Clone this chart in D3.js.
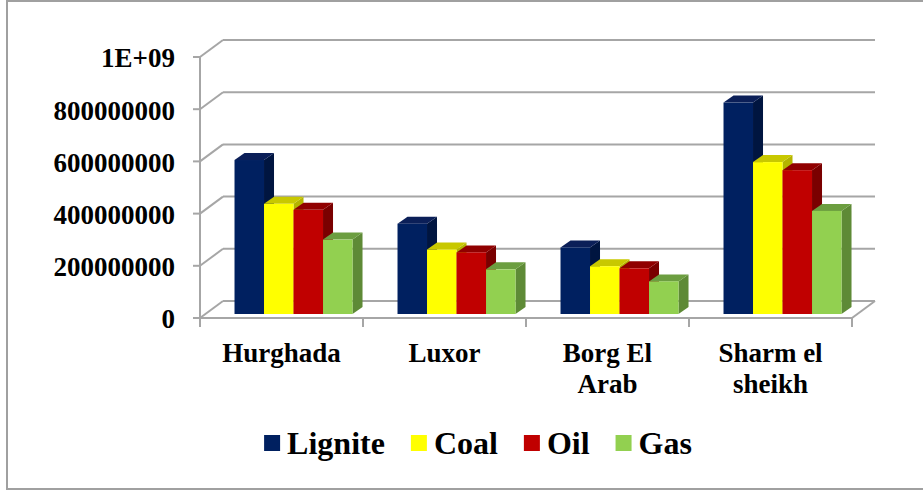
<!DOCTYPE html>
<html>
<head>
<meta charset="utf-8">
<script src="https://cdn.jsdelivr.net/npm/d3@7/dist/d3.min.js"></script>
<style>
  html, body { margin: 0; padding: 0; background: #fff; }
  svg { display: block; }
  svg text { font-family: "Liberation Serif", "Times New Roman", Times, serif; font-weight: bold; fill: #000; }
</style>
</head>
<body>
<svg id="chart" width="923" height="490" font-family="Liberation Serif, Times New Roman, serif" font-weight="bold"></svg>
<script>
// ---- data ----
const categories = ["Hurghada", "Luxor", "Borg El\nArab", "Sharm el\nsheikh"];
const seriesNames = ["Lignite", "Coal", "Oil", "Gas"];
const lignite = [590e6, 346e6, 255e6, 810e6];
const coal    = [422e6, 247e6, 183e6, 582e6];
const oil     = [399e6, 236e6, 175e6, 551e6];
const gas     = [285e6, 171e6, 125e6, 395e6];
const yTicks  = [0, 2e8, 4e8, 6e8, 8e8, 1e9];
const yTickLabels = ["0", "200000000", "400000000", "600000000", "800000000", "1E+09"];

const seriesValues = [lignite, coal, oil, gas];
const colors = {
  Lignite: { front: "#002060", top: "#0b1f58", side: "#001540" },
  Coal:    { front: "#ffff00", top: "#c8c800", side: "#b4b400" },
  Oil:     { front: "#c00000", top: "#900000", side: "#7a0000" },
  Gas:     { front: "#92d050", top: "#6c9e40", side: "#5e8a36" }
};

const FONT = "'Liberation Serif', 'Times New Roman', serif";
const svg = d3.select("#chart");
const gridColor = "#a6a6a6";

// outer border
svg.append("rect").attr("x", 7).attr("y", 1).attr("width", 940).attr("height", 488)
  .attr("fill", "none").attr("stroke", "#a0a0a0").attr("stroke-width", 2);

// scales
const x0 = d3.scaleBand().domain(categories).range([200, 852]).paddingInner(0).paddingOuter(0);
const bw = x0.bandwidth();
const x1 = d3.scaleBand().domain(seriesNames).range([bw * 0.178, bw * 0.902]);
const y = d3.scaleLinear().domain([0, 1e9]).range([318, 57]);

// depth of wall
const DX = 23, DY = -17;
// bar placement depth and bar depth
const bdx = 5.5, bdy = -4;
const barDX = 10, barDY = -7;

const grid = svg.append("g").attr("stroke", gridColor).attr("stroke-width", 2).attr("fill", "none");

// back wall gridlines + left wall diagonals
yTicks.forEach(t => {
  const yy = y(t);
  grid.append("line").attr("x1", 200 + DX).attr("x2", 852 + DX).attr("y1", yy + DY).attr("y2", yy + DY);
  grid.append("line").attr("x1", 200).attr("x2", 200 + DX).attr("y1", yy).attr("y2", yy + DY);
  grid.append("line").attr("x1", 193).attr("x2", 200).attr("y1", yy).attr("y2", yy);
});
// vertical axis
grid.append("line").attr("x1", 200).attr("x2", 200).attr("y1", y(1e9)).attr("y2", y(0));
// floor front & right edge
grid.append("line").attr("x1", 200).attr("x2", 852).attr("y1", y(0)).attr("y2", y(0));
grid.append("line").attr("x1", 852).attr("x2", 852 + DX).attr("y1", y(0)).attr("y2", y(0) + DY);
// category ticks
const bounds = categories.map(c => x0(c)).concat([x0(categories[categories.length - 1]) + bw]);
bounds.forEach(b => {
  grid.append("line").attr("x1", b).attr("x2", b).attr("y1", y(0)).attr("y2", y(0) + 9);
});

// y labels
svg.append("g").selectAll("text").data(yTicks).join("text")
  .attr("x", 175).attr("y", d => y(d) + 1)
  .attr("dy", "0.35em")
  .attr("text-anchor", "end")
  .attr("font-family", FONT).attr("font-weight", "bold")
  .attr("font-size", 27)
  .text((d, i) => yTickLabels[i]);

// bars
const bars = svg.append("g");
categories.forEach((c, ci) => {
  seriesNames.forEach((s, si) => {
    const v = seriesValues[si][ci];
    const xl = x0(c) + x1(s) + bdx;
    const w = x1.bandwidth();
    const yb = y(0) + bdy;
    const yt = y(v) + bdy;
    const col = colors[s];
    bars.append("path")
      .attr("d", `M${xl + w},${yt} L${xl + w + barDX},${yt + barDY} L${xl + w + barDX},${yb + barDY} L${xl + w},${yb} Z`)
      .attr("fill", col.side);
    bars.append("path")
      .attr("d", `M${xl},${yt} L${xl + barDX},${yt + barDY} L${xl + w + barDX},${yt + barDY} L${xl + w},${yt} Z`)
      .attr("fill", col.top);
    bars.append("rect").attr("x", xl).attr("y", yt).attr("width", w).attr("height", yb - yt)
      .attr("fill", col.front);
  });
});

// category labels
const catG = svg.append("g");
categories.forEach(c => {
  const lines = c.split("\n");
  const t = catG.append("text")
    .attr("x", x0(c) + bw / 2).attr("y", 362)
    .attr("text-anchor", "middle")
    .attr("font-family", FONT).attr("font-weight", "bold")
    .attr("font-size", 27);
  lines.forEach((ln, i) => {
    t.append("tspan").attr("x", x0(c) + bw / 2).attr("dy", i === 0 ? 0 : 31).text(ln);
  });
});

// legend
const leg = svg.append("g");
let lx = 0;
const items = [];
seriesNames.forEach(s => {
  const g = leg.append("g");
  g.append("rect").attr("x", 0).attr("y", -8).attr("width", 16).attr("height", 16).attr("fill", colors[s].front);
  const t = g.append("text").attr("x", 23).attr("y", 0).attr("dy", "0.35em")
    .attr("font-family", FONT).attr("font-weight", "bold")
    .attr("font-size", 32).text(s);
  const tw = t.node().getComputedTextLength();
  items.push({ g, w: 23 + tw });
});
const gap = 26;
const total = d3.sum(items, d => d.w) + gap * (items.length - 1);
lx = 478 - total / 2;
items.forEach(it => {
  it.g.attr("transform", `translate(${lx},443)`);
  lx += it.w + gap;
});
</script>
</body>
</html>
